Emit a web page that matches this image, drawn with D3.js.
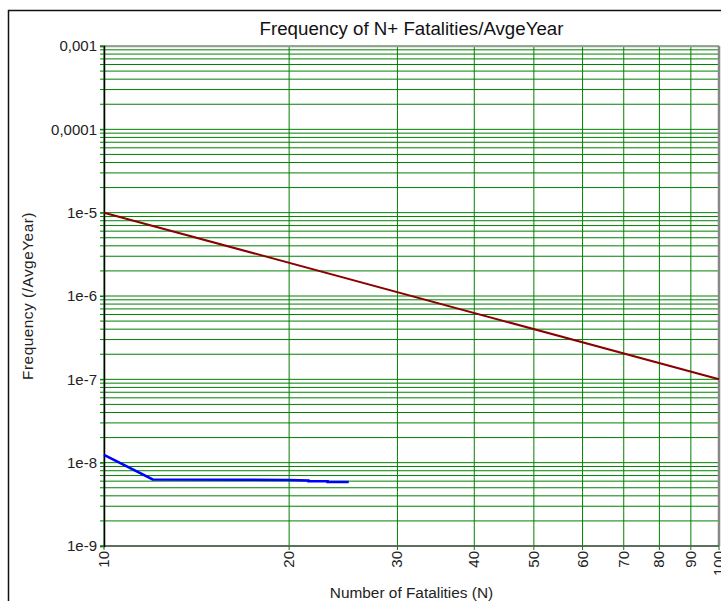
<!DOCTYPE html>
<html>
<head>
<meta charset="utf-8">
<script src="https://cdn.jsdelivr.net/npm/d3@7"></script>
<style>
  body { margin: 0; background: #fff; }
  svg { display: block; font-family: "Liberation Sans", Arial, sans-serif; }
</style>
</head>
<body>
<div id="fn-chart"></div>
<script>
// tick values / labels
const xTicks = [10, 20, 30, 40, 50, 60, 70, 80, 90, 100];
const yTicks = [1e-9, 1e-8, 1e-7, 1e-6, 1e-5, 1e-4, 1e-3];
const yTickLabels = ["1e-9", "1e-8", "1e-7", "1e-6", "1e-5", "0,0001", "0,001"];

// criterion line (N, F)
const criterionN = [10, 100];
const criterionF = [1e-5, 1e-7];

// FN curve
const fnN = [10, 12, 20, 21.5, 21.5, 23.1, 23.1, 25];
const fnF = [1.24e-8, 6.3e-9, 6.2e-9, 6.1e-9, 6.0e-9, 6.0e-9, 5.85e-9, 5.85e-9];

const W = 721, H = 601;
const margin = {left: 104, top: 46, right: 2, bottom: 55};
const width = W - margin.left - margin.right,
    height = H - margin.top - margin.bottom;

let svg = d3.select("#fn-chart").append("svg")
    .attr("width", W)
    .attr("height", H);

// outer frame
svg.append("rect")
    .attr("x", 8.5).attr("y", 10.5)
    .attr("width", W).attr("height", H)
    .attr("fill", "none")
    .attr("stroke", "#111")
    .attr("stroke-width", 1.5);

let x = d3.scaleLog().domain([10, 100]).range([0, width]);
let y = d3.scaleLog().domain([1e-9, 1e-3]).range([height, 0]);

let g = svg.append("g").attr("transform", "translate(" + margin.left + "," + margin.top + ")");

// horizontal grid (every minor log tick)
g.append("g").selectAll("line")
    .data(y.ticks())
    .enter().append("line")
    .attr("x1", -4).attr("x2", width)
    .attr("y1", d => y(d)).attr("y2", d => y(d))
    .attr("stroke", "#008000").attr("stroke-width", 1);

// vertical grid
g.append("g").selectAll("line")
    .data(xTicks)
    .enter().append("line")
    .attr("x1", d => x(d)).attr("x2", d => x(d))
    .attr("y1", 0).attr("y2", height + 4)
    .attr("stroke", "#008000").attr("stroke-width", 1);

// plot frame: top/right grey, bottom dark grey, left black
g.append("line").attr("x1", 0).attr("x2", width).attr("y1", 0.5).attr("y2", 0.5)
    .attr("stroke", "#999").attr("stroke-width", 1.5);
g.append("line").attr("x1", width).attr("x2", width).attr("y1", 0).attr("y2", height)
    .attr("stroke", "#888").attr("stroke-width", 2.5);
g.append("line").attr("x1", 0).attr("x2", width).attr("y1", height).attr("y2", height)
    .attr("stroke", "#555").attr("stroke-width", 1.5);

// y axis
let yAxis = d3.axisLeft(y)
    .tickValues(yTicks)
    .tickSize(4)
    .tickPadding(3)
    .tickFormat((d, i) => yTickLabels[i]);
let ya = g.append("g").call(yAxis);
ya.select(".domain").attr("stroke", "#000").attr("stroke-width", 1.5);
ya.selectAll(".tick line").attr("stroke", "#008000");
ya.selectAll(".tick text")
    .attr("font-size", "15px")
    .attr("fill", "#222")
    .attr("font-family", "Liberation Sans, Arial, sans-serif");

// x axis labels, rotated
let xa = g.append("g").attr("transform", "translate(0," + height + ")");
xa.selectAll("text")
    .data(xTicks)
    .enter().append("text")
    .attr("transform", d => "translate(" + (x(d) + 5) + ",5) rotate(-90)")
    .attr("text-anchor", "end")
    .attr("font-size", "15px")
    .attr("fill", "#222")
    .text(d => d);

let line = d3.line()
    .x(d => x(d[0]))
    .y(d => y(d[1]));

// criterion line
g.append("path")
    .datum(criterionN.map((n, i) => [n, criterionF[i]]))
    .attr("d", line)
    .attr("fill", "none")
    .attr("stroke", "#8b0000")
    .attr("stroke-width", 2);

// FN curve
g.append("path")
    .datum(fnN.map((n, i) => [n, fnF[i]]))
    .attr("d", line)
    .attr("fill", "none")
    .attr("stroke", "#0000ff")
    .attr("stroke-width", 2.5);

// titles
svg.append("text")
    .attr("x", margin.left + width / 2).attr("y", 35)
    .attr("text-anchor", "middle")
    .attr("font-size", "18.7px")
    .attr("fill", "#111")
    .text("Frequency of N+ Fatalities/AvgeYear");

svg.append("text")
    .attr("x", margin.left + width / 2).attr("y", 598)
    .attr("text-anchor", "middle")
    .attr("font-size", "15.4px")
    .attr("fill", "#222")
    .text("Number of Fatalities (N)");

svg.append("text")
    .attr("transform", "translate(33," + (margin.top + height / 2) + ") rotate(-90)")
    .attr("text-anchor", "middle")
    .attr("font-size", "15.4px")
    .attr("letter-spacing", "0.5px")
    .attr("fill", "#222")
    .text("Frequency (/AvgeYear)");
</script>
</body>
</html>
